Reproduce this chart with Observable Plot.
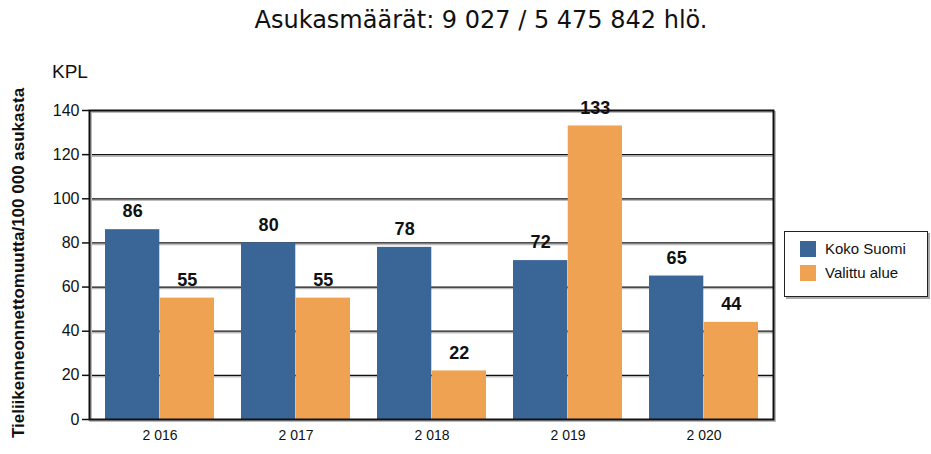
<!DOCTYPE html>
<html>
<head>
<meta charset="utf-8">
<script src="https://cdn.jsdelivr.net/npm/d3@7"></script>
<script src="https://cdn.jsdelivr.net/npm/@observablehq/plot@0.6"></script>
<style>
  body { margin: 0; background: #fff; }
  #wrap { position: relative; width: 931px; height: 454px; overflow: hidden; font-family: "Liberation Sans", Arial, sans-serif; background: #fff; }
  #title { position: absolute; left: 0; top: 6px; width: 962px; text-align: center; font-family: "DejaVu Sans", sans-serif; font-size: 24px; color: #111; z-index: 2; }
  #kpl { position: absolute; left: 52px; top: 61px; font-size: 19px; color: #111; z-index: 2; }
  #ylab { position: absolute; left: 19px; top: 263px; transform: translate(-50%, -50%) rotate(-90deg); white-space: nowrap; font-weight: bold; font-size: 17px; color: #111; z-index: 2; }
  #chart { position: absolute; left: 0; top: 50px; z-index: 1; }
  #legend { position: absolute; left: 784px; top: 231px; width: 142px; height: 64px; border: 1.5px solid #222; box-shadow: 2px 2px 0 #aaa; background: #fff; font-size: 15px; color: #111; z-index: 2; }
  .li { position: absolute; left: 15px; display: flex; align-items: center; }
  .sw { width: 16px; height: 16px; margin-right: 9px; }
</style>
</head>
<body>
<div id="wrap">
  <div id="chart"></div>
  <div id="title">Asukasmäärät: 9 027 / 5 475 842 hlö.</div>
  <div id="kpl">KPL</div>
  <div id="ylab">Tieliikenneonnettomuutta/100 000 asukasta</div>
  <div id="legend"></div>
</div>
<script>
const years = ["2 016", "2 017", "2 018", "2 019", "2 020"];
const kokoSuomi = [86, 80, 78, 72, 65];
const valittuAlue = [55, 55, 22, 133, 44];
const seriesNames = ["Koko Suomi", "Valittu alue"];
const seriesColors = ["#3A6597", "#EFA352"];
const yTicks = [0, 20, 40, 60, 80, 100, 120, 140];

const blue = years.map((y, i) => ({year: y, value: kokoSuomi[i]}));
const orange = years.map((y, i) => ({year: y, value: valittuAlue[i]}));

const W = 931, H = 404;
const mL = 89, mR = 158, mT = 60, mB = 35;
const pi = 0.2, po = 0.1;
const step = (W - mL - mR) / (years.length - pi + 2 * po);
const half = step * (1 - pi) / 2;

const chart = Plot.plot({
  width: W, height: H,
  marginLeft: mL, marginRight: mR, marginTop: mT, marginBottom: mB,
  style: {fontFamily: "'Liberation Sans', Arial, sans-serif", fontSize: "14px", color: "#111", background: "transparent"},
  x: {domain: years, paddingInner: pi, paddingOuter: po, label: null},
  y: {domain: [0, 140], ticks: yTicks, label: null},
  marks: [
    Plot.ruleY(yTicks, {stroke: "#bbb", strokeWidth: 1.5, dy: 1.5}),
    Plot.ruleY(yTicks, {stroke: "#111", strokeWidth: 1.2}),
    Plot.barY(blue, {x: "year", y: "value", fill: seriesColors[0], insetRight: half}),
    Plot.barY(orange, {x: "year", y: "value", fill: seriesColors[1], insetLeft: half}),
    Plot.frame({stroke: "#bbb", strokeWidth: 2, dx: 1.5, dy: 1.5}),
    Plot.frame({stroke: "#111", strokeWidth: 2}),
    Plot.text(blue, {x: "year", y: "value", text: d => String(d.value), dx: -half / 2, dy: -18, fontWeight: "bold", fontSize: 18, fill: "#111"}),
    Plot.text(orange, {x: "year", y: "value", text: d => String(d.value), dx: half / 2, dy: -18, fontWeight: "bold", fontSize: 18, fill: "#111"}),
    Plot.axisY({ticks: yTicks, tickSize: 7, tickPadding: 3, fontSize: 16, stroke: "#111", strokeWidth: 1.5}),
    Plot.axisX({tickSize: 0, tickPadding: 11, fontSize: 14})
  ]
});
document.getElementById("chart").appendChild(chart);

const legend = document.getElementById("legend");
seriesNames.forEach((name, i) => {
  const row = document.createElement("div");
  row.className = "li";
  row.style.top = (8 + i * 24) + "px";
  const sw = document.createElement("div");
  sw.className = "sw";
  sw.style.background = seriesColors[i];
  const t = document.createElement("span");
  t.textContent = name;
  row.appendChild(sw); row.appendChild(t);
  legend.appendChild(row);
});
</script>
</body>
</html>
